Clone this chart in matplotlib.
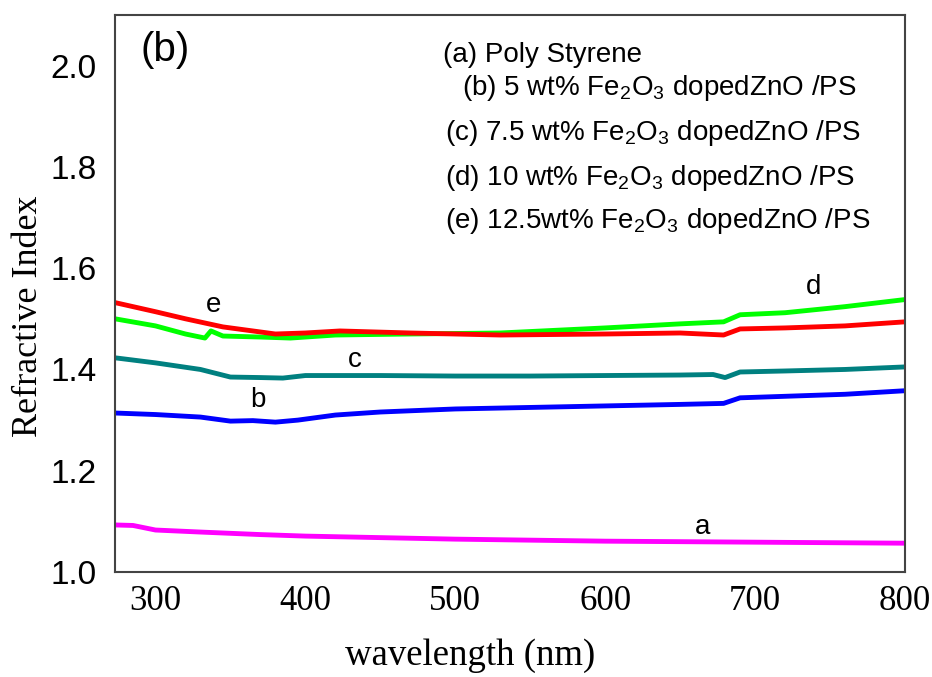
import matplotlib.pyplot as plt

# curve (a) Poly Styrene
wl_a = [273, 285, 300, 330, 370, 400, 450, 500, 550, 600, 650, 700, 750, 800]
n_a = [1.093, 1.092, 1.083, 1.079, 1.074, 1.071, 1.068, 1.065, 1.063, 1.061, 1.060, 1.059, 1.058, 1.057]

# curve (b) 5 wt%
wl_b = [273, 300, 330, 350, 365, 380, 395, 420, 450, 500, 550, 600, 650, 679, 690, 720, 760, 800]
n_b = [1.314, 1.311, 1.306, 1.298, 1.299, 1.296, 1.300, 1.310, 1.316, 1.322, 1.325, 1.328, 1.331, 1.333, 1.344, 1.347, 1.351, 1.358]

# curve (c) 7.5 wt%
wl_c = [273, 300, 330, 350, 370, 385, 400, 450, 500, 550, 600, 650, 672, 680, 690, 720, 760, 800]
n_c = [1.423, 1.413, 1.400, 1.385, 1.384, 1.383, 1.388, 1.388, 1.387, 1.387, 1.388, 1.389, 1.390, 1.384, 1.395, 1.397, 1.400, 1.405]

# curve (d) 10 wt%
wl_d = [273, 300, 320, 333, 337, 345, 370, 390, 420, 470, 530, 600, 650, 679, 690, 720, 760, 800]
n_d = [1.500, 1.486, 1.470, 1.462, 1.476, 1.466, 1.464, 1.462, 1.468, 1.470, 1.472, 1.482, 1.490, 1.494, 1.508, 1.512, 1.524, 1.538]

# curve (e) 12.5 wt%
wl_e = [273, 300, 320, 345, 360, 380, 400, 423, 470, 530, 600, 650, 679, 690, 720, 760, 800]
n_e = [1.532, 1.514, 1.500, 1.484, 1.478, 1.470, 1.472, 1.476, 1.472, 1.468, 1.470, 1.472, 1.468, 1.480, 1.482, 1.486, 1.494]

x_ticks = [300, 400, 500, 600, 700, 800]
y_ticks = [1.0, 1.2, 1.4, 1.6, 1.8, 2.0]

legend_lines = [
    "(a) Poly Styrene",
    "(b) 5 wt% Fe$_2$O$_3$ dopedZnO /PS",
    "(c) 7.5 wt% Fe$_2$O$_3$ dopedZnO /PS",
    "(d) 10 wt% Fe$_2$O$_3$ dopedZnO /PS",
    "(e) 12.5wt% Fe$_2$O$_3$ dopedZnO /PS",
]

plt.rcParams['mathtext.fontset'] = 'custom'
plt.rcParams['mathtext.rm'] = 'Liberation Sans'
plt.rcParams['mathtext.it'] = 'Liberation Sans'

fig = plt.figure(figsize=(9.32, 6.77), dpi=100)
ax = fig.add_axes([0.1234, 0.155, 0.8476, 0.823])

lw = 3.5
ax.plot(wl_a, n_a, color='#ff00ff', lw=lw)
ax.plot(wl_b, n_b, color='#0000ff', lw=lw)
ax.plot(wl_c, n_c, color='#008080', lw=lw)
ax.plot(wl_d, n_d, color='#00ff00', lw=lw)
ax.plot(wl_e, n_e, color='#ff0000', lw=lw)

ax.set_xlim(273, 800)
ax.set_ylim(1.0, 2.1)
ax.set_xticks(x_ticks)
ax.set_yticks(y_ticks)
ax.set_xticklabels([str(t) for t in x_ticks], family='Liberation Serif', fontsize=25)
ax.set_yticklabels([f"{t:.1f}" for t in y_ticks], family='Liberation Sans', fontsize=24)
ax.tick_params(axis='x', length=0, pad=9)
ax.tick_params(axis='y', length=0, pad=13)

for s in ax.spines.values():
    s.set_color('#444444')
    s.set_linewidth(1.5)

ax.set_xlabel('wavelength (nm)', family='Liberation Serif', fontsize=26.5)
ax.set_ylabel('Refractive Index', family='Liberation Serif', fontsize=26)
ax.xaxis.set_label_coords((470 - 115) / 790, -(656 - 572) / 557)
ax.yaxis.set_label_coords(-(115 - 28) / 790, 1 - (316 - 15) / 557)
ax.xaxis.label.set_va('center')
ax.yaxis.label.set_va('center')

# curve letters
lab_kw = dict(family='Liberation Sans', fontsize=20, ha='center', va='center')
ax.text(339, 1.528, 'e', **lab_kw)
ax.text(739, 1.563, 'd', **lab_kw)
ax.text(433, 1.419, 'c', **lab_kw)
ax.text(368, 1.340, 'b', **lab_kw)
ax.text(665, 1.089, 'a', **lab_kw)

ax.text((140 - 115) / 790, 1 - (50 - 15) / 557, '(b)', transform=ax.transAxes,
        family='Liberation Sans', fontsize=29, ha='left', va='center')

x_pos = [443, 462, 445, 445, 445]
base_pos = [62, 95, 140, 185, 228]
for txt, xp, yp in zip(legend_lines, x_pos, base_pos):
    ax.text((xp - 115) / 790, 1 - (yp - 15) / 557, txt, transform=ax.transAxes,
            family='Liberation Sans', fontsize=20, ha='left', va='baseline')

fig.savefig('out.png', dpi=100, facecolor='white')
plt.close(fig)
